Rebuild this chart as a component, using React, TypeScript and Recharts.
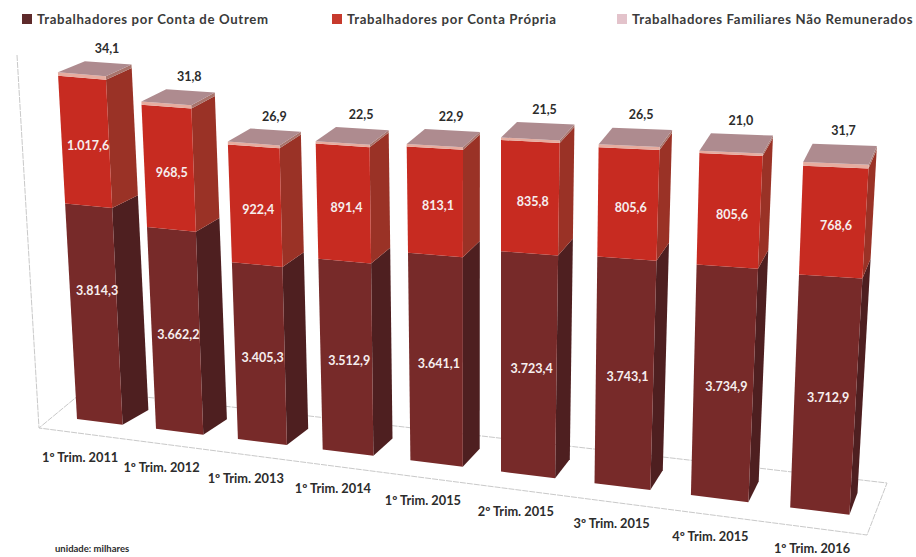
import { BarChart, Bar, XAxis, YAxis, Legend } from 'recharts';

const categories = [
  '1º Trim. 2011', '1º Trim. 2012', '1º Trim. 2013', '1º Trim. 2014', '1º Trim. 2015',
  '2º Trim. 2015', '3º Trim. 2015', '4º Trim. 2015', '1º Trim. 2016',
];
const outrem = [3814.3, 3662.2, 3405.3, 3512.9, 3641.1, 3723.4, 3743.1, 3734.9, 3712.9];
const propria = [1017.6, 968.5, 922.4, 891.4, 813.1, 835.8, 805.6, 805.6, 768.6];
const familiares = [34.1, 31.8, 26.9, 22.5, 22.9, 21.5, 26.5, 21.0, 31.7];

const rows = categories.map((trim, i) => ({
  trim, outrem: outrem[i], propria: propria[i], familiares: familiares[i],
}));

const FONT = 'Lato, sans-serif';
const WIDTH = 916;
const HEIGHT = 557;
const PLOT_BOTTOM = 537;
const BAND = 79;
const AXIS_FLOOR = 1738; // the source's value axis is cut off, bars do not start at 0
const AXIS_TOP = 6000;

// The source is not to scale: the red block is drawn about 1.24x taller per unit.
const outremTop = (d: any) => d.outrem;
const propriaTop = (d: any) => d.outrem + 1.24 * d.propria - 33;

const fmt = (v: number) =>
  v.toFixed(1).replace('.', ',').replace(/\B(?=(\d{3})+(?!\d))/, '.');

// Flat bar coordinates -> tilted 3D look. hFlat is height over the floor, d is depth 0..1.
function project(xf: number, hFlat: number, d = 0) {
  const u = (xf - 77) / BAND;
  const frac = u - Math.floor(u + 0.01);
  const xb = xf + 1.45 * u * (u - 1);
  const hs = hFlat * (0.99 + 0.0081 * u + 0.0011 * u * u);
  const x = xb + (xb - 500) * 0.00013 * hs + frac * u * 0.002 * hs;
  const y = 419 + 0.124 * (xb - 77) - hs;
  return {
    x: x + d * (27 - 2.2 * u),
    y: y + d * (-(14 + 0.9 * u) + 0.0085 * hs),
  };
}

const poly = (pts: { x: number; y: number }[]) =>
  pts.map((p) => `${p.x.toFixed(1)},${p.y.toFixed(1)}`).join(' ');

function blockFaces(props: any, front: string, side: string) {
  const { x, y, width, height } = props;
  const hTop = PLOT_BOTTOM - y;
  const hBottom = Math.max(0, PLOT_BOTTOM - (y + height));
  const frontPts = [project(x, hTop), project(x + width, hTop), project(x + width, hBottom), project(x, hBottom)];
  const sidePts = [project(x + width, hTop), project(x + width, hTop, 1), project(x + width, hBottom, 1), project(x + width, hBottom)];
  return (
    <>
      <polygon points={poly(sidePts)} fill={side} />
      <polygon points={poly(frontPts)} fill={front} />
    </>
  );
}

function faceLabel(props: any, text: string, dy: number) {
  const { x, y, width, height } = props;
  const top = project(x + width / 2, PLOT_BOTTOM - y);
  const bottom = project(x + width / 2, PLOT_BOTTOM - y - height);
  return (
    <text x={(top.x + bottom.x) / 2 + 3} y={(top.y + bottom.y) / 2 + dy} textAnchor="middle" dominantBaseline="central"
      fill="#f6eeee" fontFamily={FONT} fontWeight={700} fontSize={12.5}>
      {text}
    </text>
  );
}

const OutremShape = (props: any) => (
  <g>
    {blockFaces(props, '#772a29', '#4e1f20')}
    {/* first label sits higher than the others in the source */}
    {faceLabel(props, fmt(outrem[props.index]), props.index === 0 ? -23 : 4)}
  </g>
);

const PropriaShape = (props: any) => (
  <g>
    {blockFaces(props, '#c72b21', '#9a3226')}
    {faceLabel(props, fmt(propria[props.index]), 4)}
  </g>
);

const FamiliaresShape = (props: any) => {
  const { x, y, width } = props;
  const hTop = PLOT_BOTTOM - y;
  const a = project(x, hTop);
  const b = project(x + width, hTop);
  const c = project(x + width, hTop, 1);
  const e = project(x, hTop, 1);
  const label = project(x + width / 2, hTop, 1);
  return (
    <g>
      {blockFaces(props, '#e6ac9f', '#a8746c')}
      <polygon points={poly([a, b, c, e])} fill="#ae8b8f" />
      <text x={label.x - 1} y={label.y - 14} textAnchor="middle" dominantBaseline="central"
        fill="#2c2c2c" fontFamily={FONT} fontWeight={700} fontSize={12.5}>
        {fmt(familiares[props.index])}
      </text>
    </g>
  );
};

const LEGEND_LEFT = [37, 347, 632];

function LegendRow({ payload }: any) {
  return (
    <div>
      {(payload || []).map((entry: any, i: number) => (
        <div key={entry.value} style={{
          position: 'absolute', left: LEGEND_LEFT[i], top: 10, whiteSpace: 'nowrap',
          fontFamily: FONT, fontWeight: 700, fontSize: 13.2, letterSpacing: 0.65, color: '#3a3a3a', lineHeight: '18px',
        }}>
          <span style={{ position: 'absolute', left: -15, top: 4, width: 10, height: 10, background: entry.color }} />
          {entry.value}
        </div>
      ))}
    </div>
  );
}

const TrimTick = ({ x, payload }: any) => {
  const u = (x - 23 - 77) / BAND;
  const p = project(x, 0);
  return (
    <text x={p.x - 19 + 1.5 * u} y={p.y + 35 + 0.3 * u} textAnchor="middle" dominantBaseline="central"
      fill="#2c2c2c" fontFamily={FONT} fontWeight={700} fontSize={12.8}>
      {payload.value}
    </text>
  );
};

export default function App() {
  return (
    <div style={{ position: 'absolute', left: 0, top: 0, width: WIDTH, height: HEIGHT, background: '#fff' }}>
      <BarChart width={WIDTH} height={HEIGHT} data={rows} barSize={46} barGap={-46}
        margin={{ top: 90, right: 145, bottom: 0, left: 60 }}>
        {/* chart wall and floor outline */}
        <path d="M17 55 L39 428 L867 535 L887 483 L85 390 L39 428" fill="none" stroke="#c9c9c9" strokeWidth={1} strokeDasharray="6 1" />
        <XAxis dataKey="trim" axisLine={false} tickLine={false} interval={0} height={20} tick={<TrimTick />} />
        <YAxis hide domain={[AXIS_FLOOR, AXIS_TOP]} />
        <Legend content={<LegendRow />} itemSorter={null} wrapperStyle={{ position: 'absolute', left: 0, top: 0, width: WIDTH, height: 0 }} />
        <Bar name="Trabalhadores por Conta de Outrem" dataKey={(d: any) => [AXIS_FLOOR, outremTop(d)]} fill="#5e2a2b"
          shape={OutremShape} legendType="square" isAnimationActive={false} />
        <Bar name="Trabalhadores por Conta Própria" dataKey={(d: any) => [outremTop(d), propriaTop(d)]} fill="#c73a2d"
          shape={PropriaShape} legendType="square" isAnimationActive={false} />
        <Bar name="Trabalhadores Familiares Não Remunerados" dataKey={(d: any) => [propriaTop(d), propriaTop(d) + d.familiares]} fill="#e3c3cb"
          shape={FamiliaresShape} legendType="square" isAnimationActive={false} />
        <text x={55} y={552} fill="#2c2c2c" fontFamily={FONT} fontWeight={700} fontSize={9.5}>unidade: milhares</text>
      </BarChart>
    </div>
  );
}
